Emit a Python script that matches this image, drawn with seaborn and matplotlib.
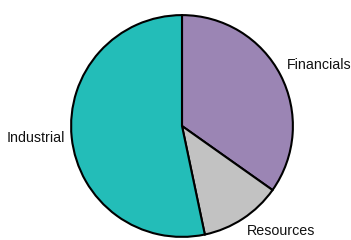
import matplotlib
matplotlib.use("Agg")

import matplotlib.pyplot as plt
import seaborn as sns

# -----------------------------
# DATA
# -----------------------------
sectors = ["Financials", "Resources", "Industrial"]
shares = [34.8, 11.9, 53.3]
colors = ["#9b85b4", "#c2c2c2", "#23bdb8"]

sns.set_style("white")
plt.rcParams["font.family"] = ["Liberation Sans", "DejaVu Sans"]

fig = plt.figure(figsize=(3.51, 2.40), dpi=100)
ax = fig.add_axes([70 / 351, 2 / 240, 224 / 351, 224 / 240])

wedges, texts = ax.pie(
    shares,
    labels=sectors,
    colors=colors,
    startangle=90,
    counterclock=False,
    labeldistance=1.06,
    wedgeprops={"edgecolor": "black", "linewidth": 1.5},
    textprops={"fontsize": 10.3, "color": "#111111"},
)
# label alignment tweaks to match the original
texts[0].set_va("bottom")
texts[1].set_va("top")

ax.set_xlim(-1.01, 1.01)
ax.set_ylim(-1.01, 1.01)
ax.set_aspect("equal")
ax.axis("off")

fig.savefig("out.png", dpi=100)
plt.close(fig)
